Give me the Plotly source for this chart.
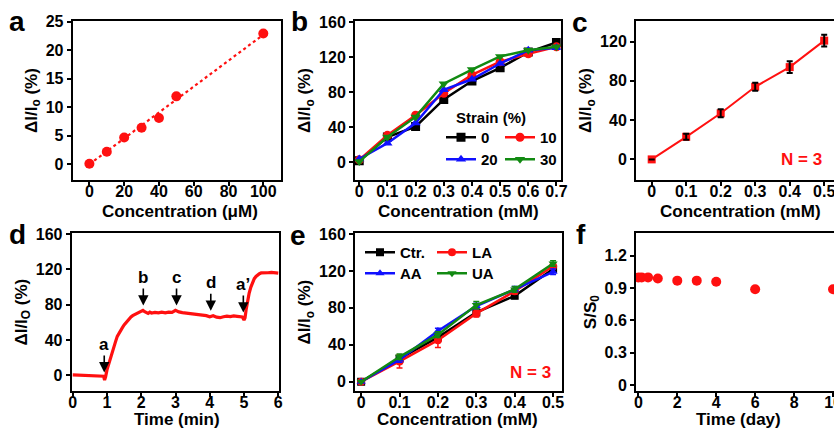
import plotly.graph_objects as go

# ---------------- data ----------------
a_conc = [0, 10, 20, 30, 40, 50, 100]
a_resp = [0.1, 2.2, 4.7, 6.4, 8.1, 11.9, 22.9]
a_fit_x = [0, 100]
a_fit_y = [0.0, 22.7]

b_conc = [0, 0.1, 0.2, 0.3, 0.4, 0.5, 0.6, 0.7]
b_s0 = [2, 29, 41, 72, 93, 108, 126, 137]
b_s10 = [3, 31, 54, 79, 100, 115, 124, 132]
b_s20 = [4, 22, 45, 83, 95, 113, 128, 131]
b_s30 = [1, 29, 52, 90, 106, 121, 128, 132]

c_conc = [0, 0.1, 0.2, 0.3, 0.4, 0.5]
c_resp = [0, 23, 47, 74, 94, 121]
c_err = [0, 3, 4, 4, 6, 6]

d_time = [0, 0.1, 0.2, 0.3, 0.4, 0.5, 0.6, 0.7, 0.8, 0.85, 0.9, 0.93, 0.96, 1.0,
          1.05, 1.1, 1.15, 1.2, 1.25, 1.3, 1.35, 1.4, 1.45, 1.5, 1.55, 1.6, 1.65,
          1.7, 1.75, 1.8, 1.85, 1.9, 1.95, 2.0, 2.05, 2.1, 2.15, 2.2, 2.25, 2.3,
          2.4, 2.5, 2.6, 2.7, 2.8, 2.9, 3.0, 3.05, 3.1, 3.2, 3.3, 3.4, 3.5, 3.6,
          3.7, 3.8, 3.9, 4.0, 4.1, 4.2, 4.3, 4.4, 4.5, 4.6, 4.7, 4.8, 4.9, 4.95,
          5.0, 5.03, 5.06, 5.1, 5.15, 5.2, 5.25, 5.3, 5.35, 5.4, 5.45, 5.5, 5.6,
          5.7, 5.8, 5.9, 6.0]
d_resp = [0.3, 0.1, -0.2, -0.4, -0.3, -0.6, -0.7, -0.8, -0.7, -0.9, -1.2, -5.5, -2.0, 6.0,
          13.0, 20.0, 26.0, 32.0, 38.0, 44.0, 48.0, 51.0, 54.0, 57.0, 59.5, 62.0, 64.5,
          66.0, 67.5, 68.5, 69.0, 70.0, 71.5, 73.0, 73.5, 72.0, 71.0, 70.0, 71.5, 70.5,
          71.2, 70.6, 71.4, 70.8, 71.6, 71.2, 73.5, 72.5, 71.8, 70.9, 70.4, 70.8, 69.6, 69.2,
          68.5, 68.8, 67.5, 66.2, 67.4, 65.8, 65.2, 66.3, 66.9, 66.5, 67.3, 66.8, 66.4, 66.0,
          62.5, 65.0, 74.0, 84.0, 93.0, 100.0, 105.5, 109.5, 112.0, 114.0, 115.2, 116.0, 116.5,
          116.2, 116.6, 116.1, 115.8]
d_marks = ["a", "b", "c", "d", "a’"]
d_mark_t = [0.92, 2.06, 3.03, 4.03, 4.98]
d_mark_v = [3, 79, 79, 73, 71]

e_conc = [0, 0.1, 0.2, 0.3, 0.4, 0.5]
e_ctr = [0, 25, 48, 75, 93, 122]
e_la = [0, 22, 45, 74, 98, 125]
e_aa = [0, 24, 55, 82, 100, 119]
e_ua = [0, 27, 51, 83, 100, 128]
e_ctr_err = [0, 3, 3, 3, 3, 3]
e_la_err = [0, 7, 8, 4, 3, 3]
e_aa_err = [0, 3, 3, 3, 3, 3]
e_ua_err = [0, 3, 3, 4, 3, 3]

f_day = [0, 0.17, 0.5, 1, 2, 3, 4, 6, 10]
f_ratio = [1.0, 1.0, 1.0, 0.99, 0.97, 0.97, 0.96, 0.89, 0.89]

# tick labels
a_xt = [0, 20, 40, 60, 80, 100]
a_yt = [0, 5, 10, 15, 20, 25]
b_xt = [0, 0.1, 0.2, 0.3, 0.4, 0.5, 0.6, 0.7]
b_xl = ["0", "0.1", "0.2", "0.3", "0.4", "0.5", "0.6", "0.7"]
c_xt = [0, 0.1, 0.2, 0.3, 0.4, 0.5]
c_xl = ["0", "0.1", "0.2", "0.3", "0.4", "0.5"]
y160 = [0, 40, 80, 120, 160]
c_yt = [0, 40, 80, 120]
d_xt = [0, 1, 2, 3, 4, 5, 6]
f_xt = [0, 2, 4, 6, 8, 10]
f_yt = [0, 0.3, 0.6, 0.9, 1.2]
f_yl = ["0", "0.3", "0.6", "0.9", "1.2"]

# ---------------- style ----------------
W, H = 834, 428
FONT = "Arial, Liberation Sans, sans-serif"
RED = "#ff1010"
BLUE = "#1010ff"
GREEN = "#128a12"
BLACK = "#000000"


def px(xp):
    return xp / W


def py(yp):
    return 1 - yp / H


fig = go.Figure()

# panel a
fig.add_trace(go.Scatter(x=a_fit_x, y=a_fit_y, mode="lines", line=dict(color=RED, width=2.2, dash="dot"),
                         showlegend=False, xaxis="x", yaxis="y"))
fig.add_trace(go.Scatter(x=a_conc, y=a_resp, mode="markers", marker=dict(color=RED, size=10),
                         showlegend=False, xaxis="x", yaxis="y"))

# panel b
for name, vals, col, sym, leg in [("0", b_s0, BLACK, "square", "legend"),
                                  ("10", b_s10, RED, "circle", "legend"),
                                  ("20", b_s20, BLUE, "triangle-up", "legend2"),
                                  ("30", b_s30, GREEN, "triangle-down", "legend2")]:
    fig.add_trace(go.Scatter(x=b_conc, y=vals, mode="lines+markers", name=name,
                             line=dict(color=col, width=2.5), marker=dict(color=col, size=9, symbol=sym),
                             legend=leg, xaxis="x2", yaxis="y2"))

# panel c
fig.add_trace(go.Scatter(x=c_conc, y=c_resp, mode="lines+markers", line=dict(color=RED, width=2),
                         marker=dict(color=RED, size=8, symbol="square"), showlegend=False,
                         xaxis="x3", yaxis="y3"))
fig.add_trace(go.Scatter(x=c_conc, y=c_resp, mode="markers", marker=dict(color="rgba(0,0,0,0)", size=1),
                         error_y=dict(type="data", array=c_err, color=BLACK, thickness=2, width=3),
                         showlegend=False, hoverinfo="skip", xaxis="x3", yaxis="y3"))

# panel d
fig.add_trace(go.Scatter(x=d_time, y=d_resp, mode="lines", line=dict(color=RED, width=3.2),
                         showlegend=False, xaxis="x4", yaxis="y4"))

# panel e
for name, vals, err, col, sym, leg in [("Ctr.", e_ctr, e_ctr_err, BLACK, "square", "legend3"),
                                       ("LA", e_la, e_la_err, RED, "circle", "legend3"),
                                       ("AA", e_aa, e_aa_err, BLUE, "triangle-up", "legend4"),
                                       ("UA", e_ua, e_ua_err, GREEN, "triangle-down", "legend4")]:
    fig.add_trace(go.Scatter(x=e_conc, y=vals, mode="lines+markers", name=name,
                             line=dict(color=col, width=2.5), marker=dict(color=col, size=8, symbol=sym),
                             error_y=dict(type="data", array=err, color=col, thickness=1.5, width=3),
                             legend=leg, xaxis="x5", yaxis="y5"))

# panel f
fig.add_trace(go.Scatter(x=f_day, y=f_ratio, mode="markers", marker=dict(color=RED, size=10),
                         showlegend=False, xaxis="x6", yaxis="y6"))

tickfont = dict(family=FONT, size=16, color=BLACK, weight="bold")
titlefont = dict(family=FONT, size=17, color=BLACK, weight="bold")


def xax(domain, rng, tv, tl, anchor):
    return dict(domain=domain, range=rng, tickvals=tv, ticktext=tl, anchor=anchor,
                showline=True, linewidth=2, linecolor=BLACK, mirror=True,
                ticks="outside", ticklen=4, tickwidth=1.5, tickcolor=BLACK,
                showgrid=False, zeroline=False, tickfont=tickfont, automargin=False,
                ticklabeloverflow="allow", ticklabelstandoff=-8)


def yax(domain, rng, tv, tl, title, anchor, mirror=True):
    return dict(domain=domain, range=rng, tickvals=tv, ticktext=tl, anchor=anchor,
                showline=True, linewidth=2, linecolor=BLACK, mirror=mirror,
                ticks="outside", ticklen=4, tickwidth=1.5, tickcolor=BLACK,
                showgrid=False, zeroline=False, tickfont=tickfont, automargin=False,
                ticklabeloverflow="allow",
                title=dict(text=title, font=titlefont, standoff=4))


top = [py(180), py(21)]
bot = [py(391), py(233.3)]
dom_a = [px(72.7), px(280.7)]
dom_b = [px(355), px(560.7)]
dom_c = [px(636), 1.0]
dom_d = [px(71.7), px(279.3)]
dom_e = [px(355), px(562.3)]
dom_f = [px(636), 1.0]
ytitle = "ΔI/I<sub>o</sub> (%)"
legfont = dict(family=FONT, size=15, color=BLACK, weight="bold")

fig.update_layout(
    width=W, height=H, autosize=False,
    margin=dict(l=0, r=0, t=0, b=0, pad=0, autoexpand=False),
    paper_bgcolor="white", plot_bgcolor="white",
    xaxis=xax(dom_a, [-9.6, 110], a_xt, [str(v) for v in a_xt], "y"),
    yaxis=yax(top, [-2.75, 25.1], a_yt, [str(v) for v in a_yt], ytitle, "x"),
    xaxis2=xax(dom_b, [-0.015, 0.715], b_xt, b_xl, "y2"),
    yaxis2=yax(top, [-20, 161.5], y160, [str(v) for v in y160], ytitle, "x2"),
    xaxis3=xax(dom_c, [-0.0455, 0.5284], c_xt, c_xl, "y3"),
    yaxis3=yax(top, [-21, 141], c_yt, [str(v) for v in c_yt], ytitle, "x3", mirror=False),
    xaxis4=xax(dom_d, [-0.03, 6.03], d_xt, [str(v) for v in d_xt], "y4"),
    yaxis4=yax(bot, [-18, 161], y160, [str(v) for v in y160], "ΔI/I<sub>O</sub> (%)", "x4"),
    xaxis5=xax(dom_e, [-0.016, 0.524], c_xt, c_xl, "y5"),
    yaxis5=yax(bot, [-10, 160.7], y160, [str(v) for v in y160], ytitle, "x5"),
    xaxis6=xax(dom_f, [-0.12, 10.05], f_xt, [str(v) for v in f_xt], "y6"),
    yaxis6=yax(bot, [-0.056, 1.41], f_yt, f_yl, "S/S<sub>0</sub>", "x6", mirror=False),
    legend=dict(orientation="h", x=px(441), y=py(121), xanchor="left", yanchor="top",
                font=legfont, bgcolor="rgba(0,0,0,0)", entrywidth=14, itemwidth=30),
    legend2=dict(orientation="h", x=px(441), y=py(143), xanchor="left", yanchor="top",
                 font=legfont, bgcolor="rgba(0,0,0,0)", entrywidth=14, itemwidth=30),
    legend3=dict(orientation="h", x=px(360), y=py(236), xanchor="left", yanchor="top",
                 font=legfont, bgcolor="rgba(0,0,0,0)", entrywidth=27, itemwidth=30),
    legend4=dict(orientation="h", x=px(360), y=py(257), xanchor="left", yanchor="top",
                 font=legfont, bgcolor="rgba(0,0,0,0)", entrywidth=27, itemwidth=30),
)

# legend title of panel b
fig.add_annotation(text="Strain (%)", x=px(454), y=py(118), xref="paper", yref="paper",
                   xanchor="left", yanchor="middle", showarrow=False, font=legfont)

# x-axis titles
for txt, xc, yp in [("Concentration (μM)", 180, 211), ("Concentration (mM)", 458, 211),
                    ("Concentration (mM)", 740, 211), ("Time (min)", 177, 419.5),
                    ("Concentration (mM)", 457, 419.5), ("Time (day)", 738, 419.5)]:
    fig.add_annotation(text=txt, x=px(xc), y=py(yp), xref="paper", yref="paper",
                       xanchor="center", yanchor="middle", showarrow=False, font=titlefont)

# panel letters
letter_font = dict(family=FONT, size=28, color=BLACK, weight="bold")
for txt, xp, yp in [("a", 17, 22), ("b", 299, 21), ("c", 580, 23),
                    ("d", 17, 234), ("e", 298, 236), ("f", 581, 234)]:
    fig.add_annotation(text=txt, x=px(xp), y=py(yp), xref="paper", yref="paper",
                       showarrow=False, font=letter_font, xanchor="center", yanchor="middle")

# N = 3 labels
nfont = dict(family=FONT, size=17, color=RED, weight="bold")
fig.add_annotation(text="N = 3", x=0.5, y=0, xref="x3", yref="y3", xanchor="right", yanchor="middle",
                   showarrow=False, font=nfont)
fig.add_annotation(text="N = 3", x=0.5, y=10, xref="x5", yref="y5", xanchor="right", yanchor="middle",
                   showarrow=False, font=nfont)

# arrows on panel d
for lab, t, v in zip(d_marks, d_mark_t, d_mark_v):
    fig.add_annotation(text=lab, x=t, y=v, xref="x4", yref="y4", ax=0, ay=-28,
                       showarrow=True, arrowhead=2, arrowsize=1.3, arrowwidth=1.6, arrowcolor=BLACK,
                       font=dict(family=FONT, size=17, color=BLACK, weight="bold"))

fig.write_html("out.html", config={"displayModeBar": False},
               post_script="document.body.style.margin='0';document.body.style.overflow='hidden';")
